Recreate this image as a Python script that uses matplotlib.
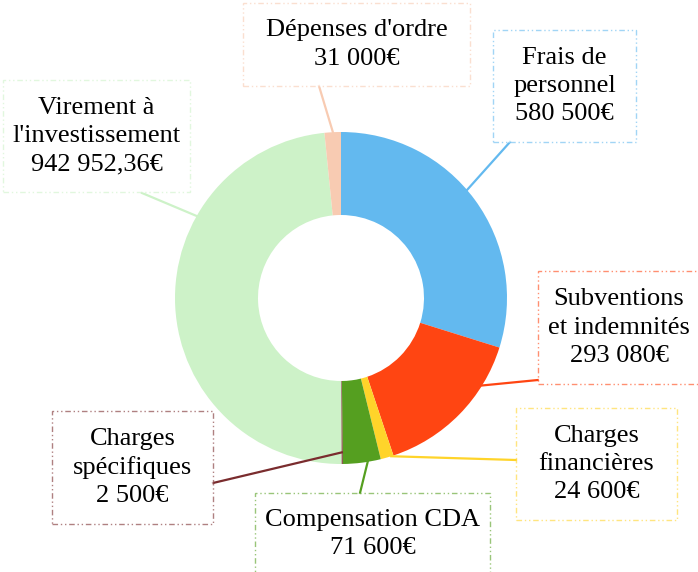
import numpy as np
import matplotlib.pyplot as plt
from matplotlib.patches import Rectangle

plt.rcParams['font.family'] = ['Liberation Serif', 'DejaVu Serif']

labels = ["Frais de\npersonnel", "Subventions\net indemnités", "Charges\nfinancières",
          "Compensation CDA", "Charges\nspécifiques", "Virement à\nl'investissement",
          "Dépenses d'ordre"]
values = [580500, 293080, 24600, 71600, 2500, 942952.36, 31000]
value_text = ["580 500€", "293 080€", "24 600€", "71 600€", "2 500€", "942 952,36€", "31 000€"]
colors = ['#63B9EF', '#FF4512', '#FFD42A', '#559F20', '#7A2C2E', '#CDF2C8', '#F8CBB2']

# label boxes in pixels: left, top, right, bottom ; leader end point
boxes = [(493, 30, 636, 142), (538, 271, 700, 384), (516, 408, 677, 520),
         (255, 493, 490, 575), (52, 411, 213, 524), (3, 80, 190, 192), (243, 3, 470, 86)]
ends = [(510, 142), (538, 380), (516, 460), (360, 493), (213, 483), (142, 193), (319, 86)]
# where the leader leaves the ring (angle in degrees, fraction of radius)
starts = [(40.6, 1.0), (-31.8, 1.0), (-72.4, 1.0), (-80.5, 0.99), (-89.7, 0.93),
          (150.4, 1.0), (92.8, 1.0)]

W, H = 698, 572
fig = plt.figure(figsize=(W / 100, H / 100), dpi=100)
ax = fig.add_axes([0, 0, 1, 1])

cx, cy, r = 341, H - 298, 166
wedges, _ = ax.pie(values, colors=colors, startangle=90, counterclock=False,
                   radius=r, center=(cx, cy), frame=True,
                   wedgeprops=dict(width=r * 0.5, linewidth=0))
ax.set_xlim(0, W)
ax.set_ylim(0, H)
ax.set_aspect('equal')
ax.axis('off')

for lab, vt, col, (l, t, rr, b), (ex, ey), (a, f) in zip(labels, value_text, colors, boxes, ends, starts):
    ang = np.deg2rad(a)
    sx, sy = cx + f * r * np.cos(ang), cy + f * r * np.sin(ang)
    ax.plot([sx, ex], [sy, H - ey], color=col, lw=1.6, zorder=1)
    ax.add_patch(Rectangle((l, H - b), rr - l, b - t, facecolor='white', edgecolor=col,
                           alpha=0.6, lw=1.0, ls=(0, (4, 2, 1, 2, 1, 2)), zorder=2))
    ax.text((l + rr) / 2, H - (t + b) / 2, lab + "\n" + vt, ha='center', va='center',
            fontsize=19, linespacing=1.37, color='black', zorder=3)

fig.savefig("out.png", dpi=100)
